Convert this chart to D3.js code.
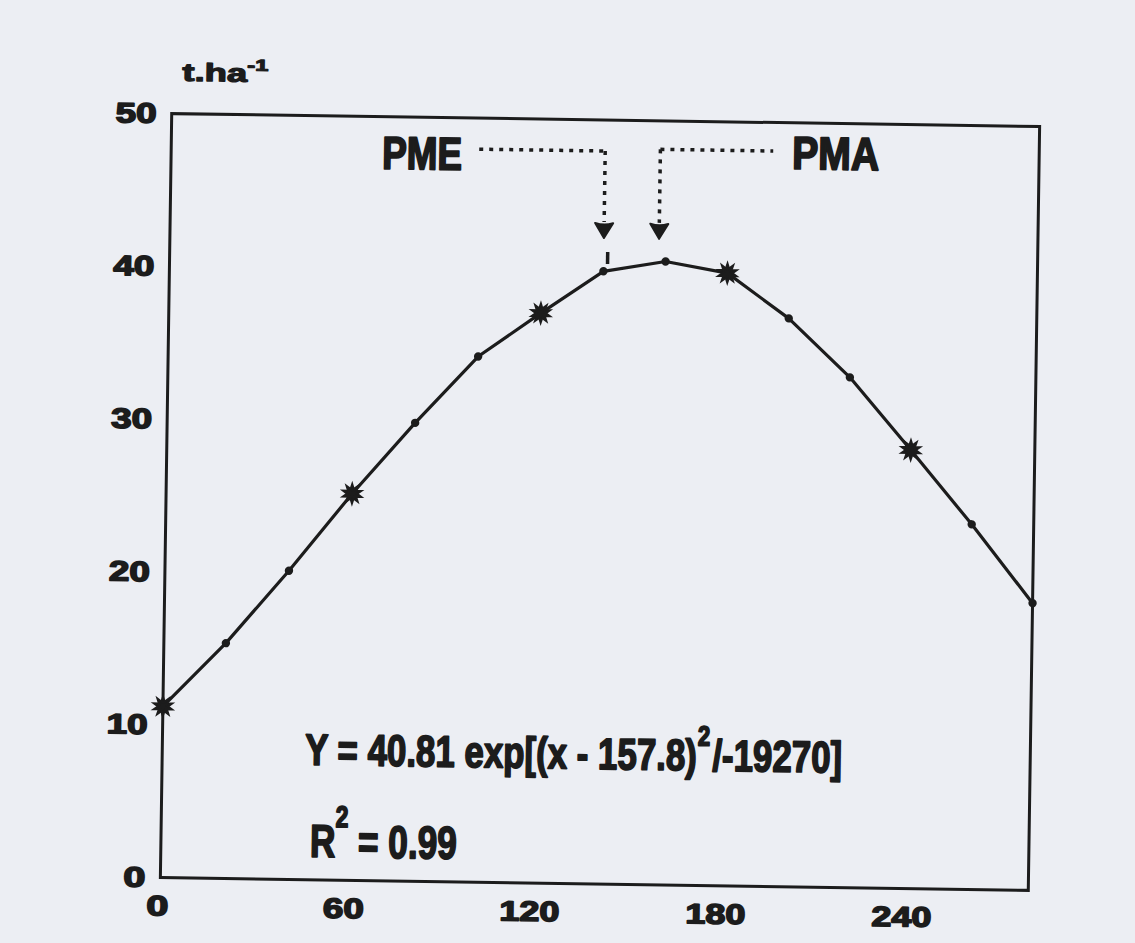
<!DOCTYPE html>
<html>
<head>
<meta charset="utf-8">
<script src="https://cdn.jsdelivr.net/npm/d3@7"></script>
<style>
  html, body { margin: 0; padding: 0; background: #eceef3; }
  svg { display: block; }
  text { font-family: "Liberation Sans", Arial, Helvetica, sans-serif; font-weight: bold; fill: #1c1c1c; stroke: #1c1c1c; stroke-linejoin: round; }
</style>
</head>
<body>
<svg id="chart" width="1135" height="943"></svg>
<script>
// ---- data ----
const days = [0, 20, 40, 60, 80, 100, 120, 140, 160, 180, 200, 220, 240, 260, 280];
const yieldVals = [11.2, 15.4, 20.2, 25.3, 30.0, 34.4, 37.3, 40.1, 40.8, 40.1, 37.2, 33.4, 28.7, 23.9, 18.8];
const starDays = [0, 60, 120, 180, 240];
const xTicks = [0, 60, 120, 180, 240];
const yTicks = [0, 10, 20, 30, 40, 50];
const xDomain = [0, 280];
const yDomain = [0, 50];
const pmeDay = 140;
const pmaDay = 157.8;
const yLabel = "t.ha";
const equationText = ["Y = 40.81 exp[(x - 157.8)", "2", "/-19270]"];
const r2Text = ["R", "2", " = 0.99"];

// ---- layout ----
const W = 1135, H = 943;
const L = 166, R = 1034, T = 120, B = 884;
const ink = "#1c1c1c";

const svg = d3.select("#chart");
svg.append("rect").attr("width", W).attr("height", H).attr("fill", "#eceef3");

const g = svg.append("g").attr("transform", "rotate(0.85,600,502)");

const x = d3.scaleLinear().domain(xDomain).range([L, R]);
const y = d3.scaleLinear().domain(yDomain).range([B, T]);

// axes (labels only, no ticks)
const yAxis = g.append("g").attr("transform", `translate(${L},0)`)
  .call(d3.axisLeft(y).tickValues(yTicks).tickSize(0).tickPadding(15));
const xAxis = g.append("g").attr("transform", `translate(0,${B})`)
  .call(d3.axisBottom(x).tickValues(xTicks).tickSize(0).tickPadding(18));
[yAxis, xAxis].forEach(a => {
  a.select(".domain").remove();
  a.selectAll("text")
    .attr("font-size", 28)
    .attr("font-family", '"Liberation Sans", Arial, sans-serif')
    .attr("font-weight", "bold")
    .attr("fill", ink)
    .attr("stroke", ink)
    .attr("stroke-width", 1.6)
    .attr("textLength", d => String(d).length * 19 + 3)
    .attr("lengthAdjust", "spacingAndGlyphs");
});
xAxis.selectAll("text").attr("dx", -3);

// frame
g.append("rect")
  .attr("x", L).attr("y", T)
  .attr("width", R - L).attr("height", B - T)
  .attr("fill", "none").attr("stroke", ink).attr("stroke-width", 3);

// data line
const pts = days.map((d, i) => [d, yieldVals[i]]);
g.append("path")
  .datum(pts)
  .attr("fill", "none")
  .attr("stroke", ink)
  .attr("stroke-width", 3.2)
  .attr("stroke-linejoin", "round")
  .attr("d", d3.line().x(d => x(d[0])).y(d => y(d[1])));

// small markers
g.selectAll("circle.pt")
  .data(pts.filter(p => !starDays.includes(p[0])))
  .join("circle")
  .attr("class", "pt")
  .attr("cx", d => x(d[0])).attr("cy", d => y(d[1]))
  .attr("r", 4.2).attr("fill", ink);

// star markers
const starPath = d3.symbol(d3.symbolStar, 105)();
const starPts = pts.filter(p => starDays.includes(p[0]));
[0, 36].forEach(rot => {
  g.selectAll("path.star" + rot)
    .data(starPts)
    .join("path")
    .attr("class", "star" + rot)
    .attr("d", starPath)
    .attr("fill", ink)
    .attr("stroke", ink)
    .attr("stroke-width", 2)
    .attr("transform", d => `translate(${x(d[0])},${y(d[1])}) rotate(${rot})`);
});

// fitted text helper
function fitText(parent, px, baseline, targetW, sw, build) {
  const gg = parent.append("g");
  const t = gg.append("text").attr("x", 0).attr("y", 0).attr("stroke-width", sw);
  build(t);
  const bw = t.node().getBBox().width;
  gg.attr("transform", `translate(${px},${baseline}) scale(${targetW / bw},1)`);
  return gg;
}

// y unit label
fitText(g, 176, 87, 86, 1.2, t => {
  t.attr("font-size", 25);
  t.append("tspan").text(yLabel);
  t.append("tspan").attr("font-size", 16).attr("dy", -11).text("-1");
});

// PME / PMA labels
fitText(g, 377, 172, 80, 2, t => t.attr("font-size", 46).text("PME"));
fitText(g, 787, 166, 87, 2, t => t.attr("font-size", 46).text("PMA"));

// dotted leaders + arrows
function dline(x1, y1, x2, y2) {
  g.append("line").attr("x1", x1).attr("y1", y1).attr("x2", x2).attr("y2", y2)
    .attr("stroke", ink).attr("stroke-width", 3.5).attr("stroke-dasharray", "4 6");
}
const xPme = x(pmeDay), xPma = x(pmaDay);
dline(474, 151, xPme, 151);
dline(xPme, 151, xPme, 222);
dline(xPma, 148.5, 768, 148.5);
dline(xPma, 148.5, xPma, 222);
// short dash under PME arrow
g.append("line").attr("x1", xPme + 4).attr("x2", xPme + 4).attr("y1", 252).attr("y2", 264)
  .attr("stroke", ink).attr("stroke-width", 3.5);

const arrow = "M-9,-14 Q0,-11 9,-14 L0,1 Z";
[xPme, xPma].forEach(ax => {
  g.append("path").attr("d", arrow)
    .attr("transform", `translate(${ax},237)`)
    .attr("fill", ink).attr("stroke", ink)
    .attr("stroke-width", 2).attr("stroke-linejoin", "round");
});

// equation
fitText(g, 309, 769, 537, 1.8, t => {
  t.attr("font-size", 44);
  t.append("tspan").text(equationText[0]);
  t.append("tspan").attr("font-size", 28).attr("dy", -25).attr("dx", 1).text(equationText[1]);
  t.append("tspan").attr("font-size", 44).attr("dy", 25).attr("dx", 3).text(equationText[2]);
});
fitText(g, 315, 861, 147, 1.8, t => {
  t.attr("font-size", 46);
  t.append("tspan").text(r2Text[0]);
  t.append("tspan").attr("font-size", 30).attr("dy", -30).text(r2Text[1]);
  t.append("tspan").attr("font-size", 46).attr("dy", 30).text(r2Text[2]);
});
</script>
</body>
</html>
